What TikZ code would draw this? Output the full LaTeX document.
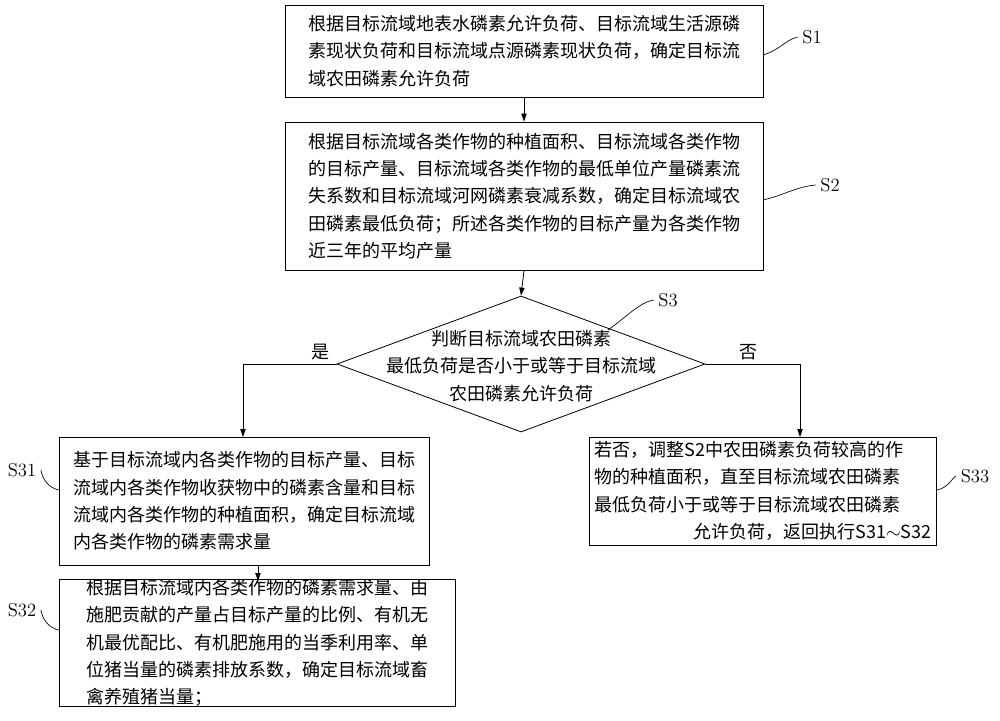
\documentclass[tikz,border=0pt]{standalone}
\usepackage{fontspec}
\newfontfamily\cjk{Noto Sans CJK SC}
\usetikzlibrary{shapes.geometric,arrows.meta}
\begin{document}
\begin{tikzpicture}[x=0.75pt,y=-0.75pt,
  box/.style={draw,line width=0.6pt,inner sep=0pt,align=left,font=\cjk\fontsize{13.5}{20.5}\selectfont},
  lbl/.style={font=\fontsize{14}{16}\selectfont},
  arr/.style={-{Triangle[length=6pt,width=4pt]},line width=0.6pt},
  lead/.style={line width=0.5pt}]
\useasboundingbox (0,0) rectangle (1000,721);
\node[box,minimum width=478*0.75pt,minimum height=92*0.75pt] (s1) at (524,51)
 {根据目标流域地表水磷素允许负荷、目标流域生活源磷\\素现状负荷和目标流域点源磷素现状负荷，确定目标流\\域农田磷素允许负荷};
\node[box,minimum width=478*0.75pt,minimum height=148*0.75pt] (s2) at (524,196)
 {根据目标流域各类作物的种植面积、目标流域各类作物\\的目标产量、目标流域各类作物的最低单位产量磷素流\\失系数和目标流域河网磷素衰减系数，确定目标流域农\\田磷素最低负荷；所述各类作物的目标产量为各类作物\\近三年的平均产量};
\node[draw,diamond,line width=0.6pt,aspect=2.7,minimum width=368*0.75pt,minimum height=136*0.75pt,inner sep=0pt] (d) at (521,364) {};
\node[align=center,font=\cjk\fontsize{13.5}{20.5}\selectfont] at (521,366) {判断目标流域农田磷素\\最低负荷是否小于或等于目标流域\\农田磷素允许负荷};
\node[box,minimum width=370*0.75pt,minimum height=128*0.75pt] (s31) at (244,501)
 {基于目标流域内各类作物的目标产量、目标\\流域内各类作物收获物中的磷素含量和目标\\流域内各类作物的种植面积，确定目标流域\\内各类作物的磷素需求量};
\node[box,minimum width=347*0.75pt,minimum height=108*0.75pt] (s33) at (763,491)
 {若否，调整S2中农田磷素负荷较高的作\\物的种植面积，直至目标流域农田磷素\\最低负荷小于或等于目标流域农田磷素\\\hspace*{5.5em}允许负荷，返回执行S31$\sim$S32};
\node[box,minimum width=396*0.75pt,minimum height=125*0.75pt] (s32) at (257,643)
 {根据目标流域内各类作物的磷素需求量、由\\施肥贡献的产量占目标产量的比例、有机无\\机最优配比、有机肥施用的当季利用率、单\\位猪当量的磷素排放系数，确定目标流域畜\\禽养殖猪当量；};
\draw[arr] (s1.south) -- (s2.north);
\draw[arr] (s2.south) -- (d.north);
\draw[arr] (d.west) -| (243,437);
\draw[arr] (d.east) -| (800,437);
\draw[arr] (258,565) -- (258,581);
\node[font=\cjk\fontsize{13.5}{16}\selectfont] (yes) at (320,352) {是};
\node[font=\cjk\fontsize{13.5}{16}\selectfont] (no) at (748,352) {否};
\node[lbl] (l1) at (812,37) {S1};
\node[lbl] (l2) at (830,185) {S2};
\node[lbl] (l3) at (668,300) {S3};
\node[lbl] (l31) at (22,470) {S31};
\node[lbl] (l33) at (975,476) {S33};
\node[lbl] (l32) at (22,610) {S32};
\draw[lead] (763,55) .. controls (780,50) and (785,40) .. (l1.west);
\draw[lead] (763,200) .. controls (785,195) and (795,187) .. (l2.west);
\draw[lead] (608,330) .. controls (625,318) and (640,302) .. (l3.west);
\draw[lead] (59,490) .. controls (48,488) and (42,478) .. (l31.east);
\draw[lead] (937,490) .. controls (948,488) and (952,478) .. (l33.west);
\draw[lead] (59,630) .. controls (48,628) and (42,618) .. (l32.east);
\end{tikzpicture}
\end{document}
